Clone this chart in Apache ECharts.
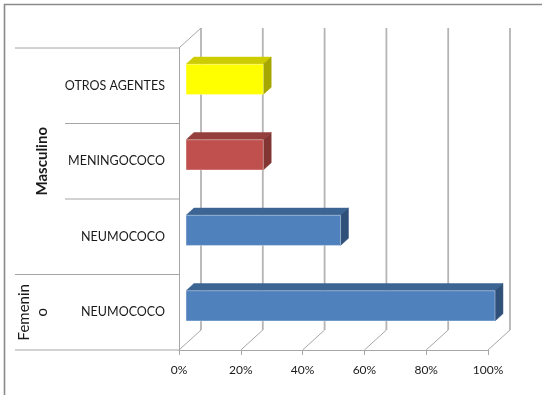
<!DOCTYPE html>
<html>
<head>
<meta charset="utf-8">
<script src="https://cdn.jsdelivr.net/npm/echarts@6/dist/echarts.min.js"></script>
<style>
  html, body { margin: 0; padding: 0; background: #ffffff; }
  #chart { width: 542px; height: 395px; }
</style>
</head>
<body>
<div id="chart"></div>
<script>
// Causative agent by sex, share of cases (%), listed bottom to top
const agentLabels = ['NEUMOCOCO', 'NEUMOCOCO', 'MENINGOCOCO', 'OTROS AGENTES'];
const shareValues = [100, 50, 25, 25];
// Sex groups and the first/last agent index each one spans
const sexGroups = ['Femenino', 'Masculino'];
const groupFirst = [0, 1];
const groupLast = [0, 3];
const tickValues = [0, 20, 40, 60, 80, 100];

// Face colours (front, top, side) for each bar
const barFaces = [
  ['#4F81BD', '#3C6594', '#2E5079'],
  ['#4F81BD', '#3C6594', '#2E5079'],
  ['#C0504D', '#943F3D', '#823634'],
  ['#FFFF00', '#CCCC00', '#A6A600']
];

// Perspective depth of the plot box and the slab each bar occupies in it
const DX = 22, DY = -20;
const SLAB_FRONT = 0.32, SLAB_BACK = 0.68;
const BAR_FRACTION = 0.4;
const GROUP_COL_X = 15, LABEL_COL_X = 65;
const LINE = '#a6a6a6';
const FONT = 'Lato, "Open Sans", sans-serif';

const chart = echarts.init(document.getElementById('chart'), null, { renderer: 'canvas' });

function renderWalls(params, api) {
  const cs = params.coordSys;
  const x = api.coord([api.value(0), 0])[0];
  const top = cs.y, bottom = cs.y + cs.height;
  const lineStyle = { stroke: LINE, lineWidth: 1 };
  const children = [
    { type: 'line', shape: { x1: x + DX, y1: top + DY, x2: x + DX, y2: bottom + DY },
      style: { stroke: '#b4b4b4', lineWidth: 1.8 } },
    { type: 'line', shape: { x1: x + DX, y1: bottom + DY, x2: x, y2: bottom }, style: lineStyle }
  ];
  if (params.dataIndex === 0) {
    children.push({ type: 'line', shape: { x1: x, y1: top, x2: x + DX, y2: top + DY }, style: lineStyle });
  }
  return { type: 'group', children: children };
}

function renderGroups(params, api) {
  const cs = params.coordSys;
  const first = api.value(1), last = api.value(2);
  const band = api.size([0, 1])[1];
  const yTop = api.coord([0, last])[1] - band / 2;
  const yBot = api.coord([0, first])[1] + band / 2;
  const xFront = cs.x;
  const lineStyle = { stroke: LINE, lineWidth: 1 };
  const children = [
    { type: 'line', shape: { x1: GROUP_COL_X, y1: yTop, x2: xFront, y2: yTop }, style: lineStyle },
    { type: 'line', shape: { x1: GROUP_COL_X, y1: yBot, x2: xFront, y2: yBot }, style: lineStyle }
  ];
  for (let k = first + 1; k <= last; k++) {
    const y = api.coord([0, k])[1] + band / 2;
    children.push({ type: 'line', shape: { x1: LABEL_COL_X, y1: y, x2: xFront, y2: y }, style: lineStyle });
  }
  const name = sexGroups[params.dataIndex];
  children.push({
    type: 'text',
    x: 51.5,
    y: (yTop + yBot) / 2,
    rotation: Math.PI / 2,
    style: {
      text: name,
      width: (yBot - yTop) - 13,
      overflow: 'breakAll',
      lineHeight: 18,
      align: 'center',
      verticalAlign: 'bottom',
      fill: '#1a1a1a',
      font: (params.dataIndex === 1 ? 'bold ' : '') + '15px ' + FONT
    }
  });
  return { type: 'group', children: children };
}

function renderBar(params, api) {
  const v = api.value(0), idx = api.value(1);
  const band = api.size([0, 1])[1];
  const base = api.coord([0, idx]);
  const end = api.coord([v, idx]);
  const h = band * BAR_FRACTION;
  const ox = DX * SLAB_FRONT, oy = DY * SLAB_FRONT;
  const bx = DX * (SLAB_BACK - SLAB_FRONT), by = DY * (SLAB_BACK - SLAB_FRONT);
  const x0 = base[0] + ox, x1 = end[0] + ox;
  const yT = base[1] + oy - h / 2, yB = yT + h;
  const c = barFaces[params.dataIndex];
  return {
    type: 'group',
    children: [
      { type: 'polygon', shape: { points: [[x0, yT], [x1, yT], [x1 + bx, yT + by], [x0 + bx, yT + by]] },
        style: { fill: c[1], stroke: c[1], lineWidth: 0.5 } },
      { type: 'polygon', shape: { points: [[x1, yT], [x1 + bx, yT + by], [x1 + bx, yB + by], [x1, yB]] },
        style: { fill: c[2], stroke: c[2], lineWidth: 0.5 } },
      { type: 'rect', shape: { x: x0, y: yT, width: x1 - x0, height: h },
        style: { fill: c[0], stroke: 'rgba(255,255,255,0.35)', lineWidth: 1 } }
    ]
  };
}

chart.setOption({
  animation: false,
  backgroundColor: '#ffffff',
  graphic: [{
    type: 'rect', silent: true, z: 100,
    shape: { x: 4.5, y: 4.5, width: 700, height: 600 },
    style: { fill: 'none', stroke: '#8a8a8a', lineWidth: 1.6 }
  }],
  grid: { left: 179, right: 54, top: 48, bottom: 45, containLabel: false },
  xAxis: {
    type: 'value', min: 0, max: 100, interval: 20,
    axisLine: { show: true, lineStyle: { color: LINE, width: 1 } },
    axisTick: { show: true, length: 5, lineStyle: { color: LINE } },
    splitLine: { show: false },
    axisLabel: { formatter: '{value}%', margin: 14, color: '#1a1a1a', fontSize: 12, fontFamily: FONT }
  },
  yAxis: {
    type: 'category', data: agentLabels,
    axisLine: { show: true, lineStyle: { color: LINE, width: 1 } },
    axisTick: { show: false },
    splitLine: { show: false },
    axisLabel: { margin: 14, color: '#1a1a1a', fontSize: 12.5, fontFamily: FONT }
  },
  series: [
    {
      type: 'custom', name: 'walls', silent: true, z: 1,
      data: tickValues.map(function (t) { return [t, 0]; }),
      encode: { x: 0, y: 1 },
      renderItem: renderWalls
    },
    {
      type: 'custom', name: 'groups', silent: true, z: 1,
      data: sexGroups.map(function (g, i) { return [0, groupFirst[i], groupLast[i]]; }),
      encode: { x: 0, y: 1 },
      renderItem: renderGroups
    },
    {
      type: 'custom', name: 'share', z: 5,
      data: shareValues.map(function (v, i) { return [v, i]; }),
      encode: { x: 0, y: 1 },
      renderItem: renderBar
    }
  ]
});
</script>
</body>
</html>
